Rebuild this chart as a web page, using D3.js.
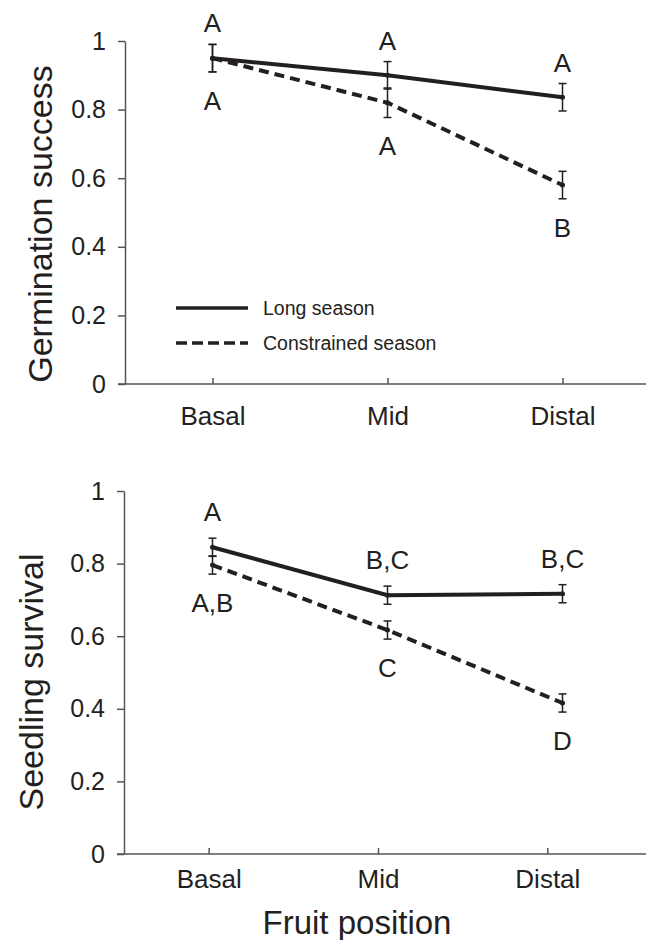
<!DOCTYPE html>
<html><head><meta charset="utf-8">
<script src="https://cdn.jsdelivr.net/npm/d3@7"></script>
<style>
body{margin:0;background:#fff;}
svg text{font-family:"Liberation Sans",Arial,sans-serif;fill:#231f20;}
</style></head>
<body><svg id="c" width="646" height="940"></svg>
<script>
// ---- data ----
const categories = ["Basal","Mid","Distal"];
const yTicks = [0,0.2,0.4,0.6,0.8,1];
const yTickLabels = ["0","0.2","0.4","0.6","0.8","1"];
const seriesNames = ["Long season","Constrained season"];

// Germination success
const germLong = [0.95,0.90,0.836];
const germLongErr = [0.04,0.04,0.04];
const germCon = [0.95,0.82,0.58];
const germConErr = [0.04,0.043,0.04];
const germLongLetters = ["A","A","A"];
const germConLetters = ["A","A","B"];

// Seedling survival
const seedLong = [0.845,0.713,0.717];
const seedLongErr = [0.025,0.025,0.025];
const seedCon = [0.796,0.617,0.416];
const seedConErr = [0.025,0.025,0.025];
const seedLongLetters = ["A","B,C","B,C"];
const seedConLetters = ["A,B","C","D"];

// ---- drawing ----
const svg = d3.select("#c");
const ink = "#231f20";
const x = d3.scalePoint().domain(categories).range([125,650]).padding(0.5);

function panel(cfg){
  const g = svg.append("g");
  const y = d3.scaleLinear().domain([0,1]).range([cfg.y0,cfg.y1]);
  // y axis
  const ya = g.append("g").attr("transform",`translate(${cfg.ax},0)`)
    .call(d3.axisLeft(y).tickValues(yTicks).tickFormat((d,i)=>yTickLabels[i]).tickSize(7).tickSizeOuter(0).tickPadding(12));
  ya.select(".domain").attr("stroke","#555").attr("stroke-width",1.5);
  ya.selectAll(".tick line").attr("stroke","#555").attr("stroke-width",1.5);
  ya.selectAll(".tick text").attr("font-size",25).attr("fill",ink).attr("font-family","Liberation Sans, Arial, sans-serif");
  // x axis
  const xa = g.append("g").attr("transform",`translate(0,${cfg.y0})`)
    .call(d3.axisBottom(cfg.xAxis).tickSize(-6).tickSizeOuter(0).tickPadding(cfg.xLabelPad));
  xa.select(".domain").remove();
  xa.append("line").attr("x1",cfg.ax-7).attr("x2",646).attr("y1",0).attr("y2",0).attr("stroke","#555").attr("stroke-width",1.5);
  xa.selectAll(".tick line").attr("stroke","#555").attr("stroke-width",1.5);
  xa.selectAll(".tick text").attr("font-size",26).attr("fill",ink).attr("font-family","Liberation Sans, Arial, sans-serif").attr("dy","0");
  xa.selectAll(".tick text").attr("y",cfg.xLabelBase);
  // y title
  g.append("text").attr("transform",`translate(${cfg.titleX},${cfg.titleY}) rotate(-90)`)
    .attr("text-anchor","middle").attr("font-size",34).text(cfg.title);

  const line = d3.line().x((d,i)=>x(categories[i])).y(d=>y(d));
  // error bars
  function errs(vals, ev){
    vals.forEach((v,i)=>{
      const cx = x(categories[i]);
      const eg = g.append("g").attr("stroke",ink).attr("stroke-width",1.5);
      eg.append("line").attr("x1",cx).attr("x2",cx).attr("y1",y(v+ev[i])).attr("y2",y(v-ev[i]));
      eg.append("line").attr("x1",cx-4).attr("x2",cx+4).attr("y1",y(v+ev[i])).attr("y2",y(v+ev[i]));
      eg.append("line").attr("x1",cx-4).attr("x2",cx+4).attr("y1",y(v-ev[i])).attr("y2",y(v-ev[i]));
    });
  }
  errs(cfg.con, cfg.conErr);
  errs(cfg.long, cfg.longErr);
  g.append("path").datum(cfg.con).attr("d",line).attr("fill","none").attr("stroke",ink)
    .attr("stroke-width",4).attr("stroke-dasharray","10,6");
  g.append("path").datum(cfg.long).attr("d",line).attr("fill","none").attr("stroke",ink)
    .attr("stroke-width",4);
  [cfg.long,cfg.con].forEach(s=>s.forEach((v,i)=>{
    g.append("circle").attr("cx",x(categories[i])).attr("cy",y(v)).attr("r",2.5).attr("fill",ink);
  }));
  // letters
  cfg.longLetters.forEach((t,i)=>{
    g.append("text").attr("x",x(categories[i])).attr("y",y(cfg.long[i]+cfg.longErr[i])-cfg.gapAbove)
      .attr("text-anchor","middle").attr("font-size",26).text(t);
  });
  cfg.conLetters.forEach((t,i)=>{
    g.append("text").attr("x",x(categories[i])).attr("y",y(cfg.con[i]-cfg.conErr[i])+cfg.gapBelow+19)
      .attr("text-anchor","middle").attr("font-size",26).text(t);
  });
  return g;
}

panel({y0:384,y1:41,ax:125,xAxis:x,xLabelPad:0,xLabelBase:41,title:"Germination success",titleX:52,titleY:224,
  long:germLong,longErr:germLongErr,con:germCon,conErr:germConErr,longLetters:germLongLetters,conLetters:germConLetters,
  gapAbove:12,gapBelow:19});

const xBottomAxis = d3.scalePoint().domain(categories).range([124,632]).padding(0.5);
panel({y0:854,y1:491,ax:124,xAxis:xBottomAxis,xLabelPad:0,xLabelBase:34,title:"Seedling survival",titleX:43,titleY:682,
  long:seedLong,longErr:seedLongErr,con:seedCon,conErr:seedConErr,longLetters:seedLongLetters,conLetters:seedConLetters,
  gapAbove:17,gapBelow:19});

// legend
const lg = svg.append("g");
seriesNames.forEach((n,i)=>{
  const ly = 308 + i*35;
  lg.append("line").attr("x1",176).attr("x2",248).attr("y1",ly).attr("y2",ly).attr("stroke",ink)
    .attr("stroke-width",3.5).attr("stroke-dasharray",i===1?"11,5":null);
  lg.append("text").attr("x",263).attr("y",ly+7).attr("font-size",19.5).text(n);
});

// x title
svg.append("text").attr("x",357).attr("y",934).attr("text-anchor","middle").attr("font-size",33).text("Fruit position");
</script></body></html>
